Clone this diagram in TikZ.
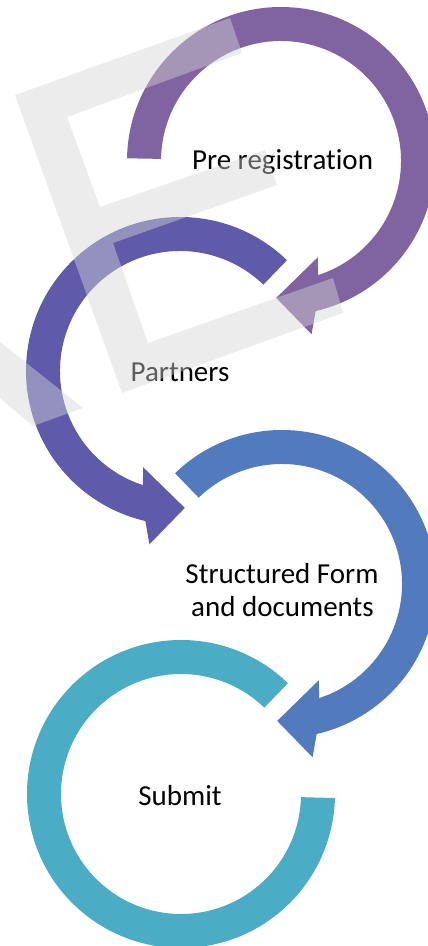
\documentclass[tikz,border=0pt]{standalone}
\usepackage{fontspec}
\setmainfont{Carlito}[Ligatures=NoCommon]
\definecolor{cOne}{HTML}{8064A2}
\definecolor{cTwo}{HTML}{5F5BAA}
\definecolor{cThree}{HTML}{527BBD}
\definecolor{cFour}{HTML}{4BACC6}
\definecolor{wmark}{RGB}{214,214,214}
\tikzset{
  lbl/.style={inner sep=0pt, anchor=base, text=black, font=\fontsize{29}{33}\selectfont},
  wm/.style={fill=wmark, fill opacity=0.44}
}
\begin{document}
\begin{tikzpicture}[x=1pt,y=1pt]
\clip (0,0) rectangle (428,946);
\fill[white] (0,0) rectangle (428,946);
\coordinate (c1) at (281,785);
\coordinate (c2) at (180,575);
\coordinate (c3) at (282,362);
\coordinate (c4) at (181,152);
% arrow 1
\begin{scope}[shift={(c1)}]
\fill[cOne] (179:154) arc[start angle=179, end angle=-77, radius=154] -- (-80:176) -- (-92:137) -- (-69:103) -- (-72:120) arc[start angle=-72, end angle=179, radius=120] -- cycle;
\end{scope}
% arrow 2
\begin{scope}[shift={(c2)}]
\fill[cTwo] (46:154) arc[start angle=46, end angle=257, radius=154] -- (260:176) -- (272:137) -- (249:103) -- (252:120) arc[start angle=252, end angle=46, radius=120] -- cycle;
\end{scope}
% arrow 3
\begin{scope}[shift={(c3)}]
\fill[cThree] (134:154) arc[start angle=134, end angle=-77, radius=154] -- (-80:176) -- (-92:137) -- (-69:103) -- (-72:120) arc[start angle=-72, end angle=134, radius=120] -- cycle;
\end{scope}
% arc 4
\begin{scope}[shift={(c4)}]
\fill[cFour] (46:154) arc[start angle=46, end angle=358.5, radius=154] -- (358.5:120) arc[start angle=358.5, end angle=46, radius=120] -- cycle;
\end{scope}
% labels
\node[lbl] (pre) at (282.5,776) {Pre registration};
\node[lbl] (partners) at (180,564) {Partners};
\node[lbl] (sf1) at (282,362) {Structured Form};
\node[lbl] (sf2) at (282.5,329) {and documents};
\node[lbl] (submit) at (180,140) {Submit};
% watermark
\fill[wm] (15,851) -- (230,928) -- (242,893) -- (67,829) -- (100,739) -- (265,796) -- (277,761) -- (113,703) -- (148,603) -- (333,668) -- (343,633) -- (122,553) -- cycle;
\fill[wm] (0,604) -- (83,538) -- (33,520) -- (0,548) -- cycle;
\end{tikzpicture}
\end{document}
